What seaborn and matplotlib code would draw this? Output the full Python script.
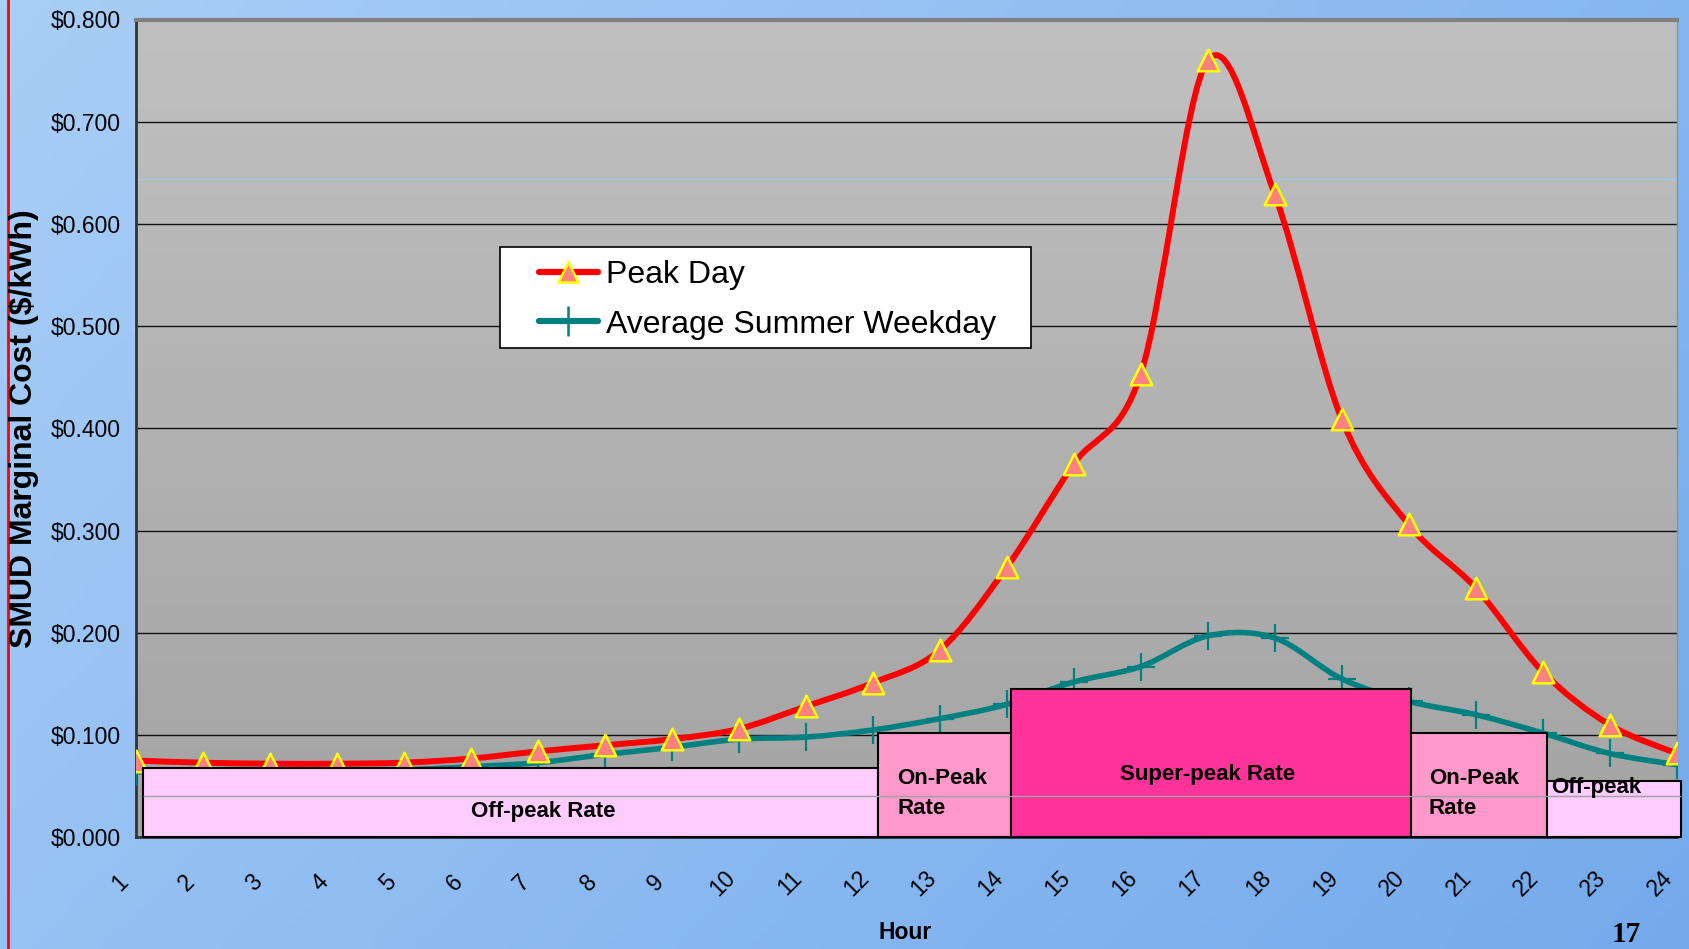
import numpy as np
import pandas as pd
import matplotlib
matplotlib.use("Agg")
import matplotlib.pyplot as plt
import matplotlib.transforms as mtransforms
import seaborn as sns
from matplotlib.path import Path
from matplotlib.patches import PathPatch, Rectangle
from matplotlib.lines import Line2D
import matplotlib.colors as mcolors

# ---------------- data ----------------
hours = list(range(1, 25))
peak_day = [0.075, 0.073, 0.072, 0.072, 0.073, 0.077, 0.084, 0.090, 0.096, 0.106,
            0.128, 0.151, 0.183, 0.264, 0.365, 0.453, 0.760, 0.629, 0.409, 0.306,
            0.244, 0.162, 0.110, 0.082]
avg_summer = [0.064, 0.065, 0.065, 0.065, 0.066, 0.069, 0.073, 0.081, 0.088, 0.096,
              0.098, 0.105, 0.116, 0.130, 0.152, 0.167, 0.197, 0.195, 0.155, 0.133,
              0.120, 0.102, 0.082, 0.071]
series_names = ["Peak Day", "Average Summer Weekday"]

rate_labels = ["Off-peak Rate", "On-Peak\nRate", "Super-peak Rate", "On-Peak\nRate", "Off-peak"]
rate_start = [1.11, 12.08, 14.07, 20.03, 22.06]
rate_end = [12.08, 14.07, 20.03, 22.06, 24.06]
rate_level = [0.068, 0.102, 0.145, 0.102, 0.055]

y_ticks = [0.0, 0.1, 0.2, 0.3, 0.4, 0.5, 0.6, 0.7, 0.8]

# ---------------- style ----------------
sns.set_theme(style="white")
plt.rcParams['font.family'] = ['Liberation Sans', 'DejaVu Sans']
plt.rcParams['text.color'] = 'black'
plt.rcParams['axes.labelcolor'] = 'black'
plt.rcParams['xtick.color'] = 'black'
plt.rcParams['ytick.color'] = 'black'

RED = "#FF0000"
TEAL = "#008080"
rate_colors = ["#FFCCFF", "#FF99CC", "#FF3399", "#FF99CC", "#FFCCFF"]

W, H = 1689, 949
fig = plt.figure(figsize=(W / 100, H / 100), dpi=100)

# slide background gradient
bg = fig.add_axes([0, 0, 1, 1], zorder=-10)
gx, gy = np.meshgrid(np.linspace(0, 1, 200), np.linspace(0, 1, 120))
t = np.clip(0.65 * gx + 0.35 * gy, 0, 1)
c1 = np.array(mcolors.to_rgb("#A9CEF7"))
c2 = np.array(mcolors.to_rgb("#74AAEC"))
img = c1[None, None, :] * (1 - t[..., None]) + c2[None, None, :] * t[..., None]
bg.imshow(img, aspect="auto", extent=[0, 1, 0, 1], origin="upper")
bg.axvline(8 / W, color="#FF0000", lw=2)
bg.axis("off")

# main axes
L, R = 135.7, 1676.7
T, B = 19.5, 837.3
ax = fig.add_axes([L / W, 1 - B / H, (R - L) / W, (B - T) / H])
ax.set_xlim(1, 24)
ax.set_ylim(0, 0.8)

# plot area gradient
grad = np.linspace(0, 1, 256)[:, None]
top_c = np.array(mcolors.to_rgb("#C0C0C0"))
bot_c = np.array(mcolors.to_rgb("#A4A4A4"))
pimg = top_c[None, None, :] * (1 - grad[..., None]) + bot_c[None, None, :] * grad[..., None]
ax.imshow(pimg, aspect="auto", extent=[0, 1, 0, 1], transform=ax.transAxes, zorder=0)

# gridlines
for yv in y_ticks[1:-1]:
    ax.axhline(yv, color="#111111", lw=1.0, zorder=1)
ax.axhline(0.644, color="#9CC8F2", lw=1.0, zorder=1)


def smooth_path(x, y):
    x = np.asarray(x, float)
    y = np.asarray(y, float)
    n = len(x)
    verts = [(x[0], y[0])]
    codes = [Path.MOVETO]
    for i in range(n - 1):
        xm, ym = (x[i - 1], y[i - 1]) if i > 0 else (x[i], y[i])
        xp, yp = (x[i + 2], y[i + 2]) if i + 2 < n else (x[i + 1], y[i + 1])
        ctrl1 = (x[i] + (x[i + 1] - xm) / 6, y[i] + (y[i + 1] - ym) / 6)
        ctrl2 = (x[i + 1] - (xp - x[i]) / 6, y[i + 1] - (yp - y[i]) / 6)
        verts += [ctrl1, ctrl2, (x[i + 1], y[i + 1])]
        codes += [Path.CURVE4] * 3
    return Path(verts, codes)


df = pd.DataFrame({"Hour": hours, series_names[0]: peak_day, series_names[1]: avg_summer})

# teal line + markers
ax.add_patch(PathPatch(smooth_path(hours, avg_summer), fill=False, edgecolor=TEAL,
                       lw=4.0, zorder=3, capstyle="round", joinstyle="round"))
sns.scatterplot(data=df, x="Hour", y=series_names[1], marker="+", s=420,
                color=TEAL, linewidth=1.6, ax=ax, zorder=4, legend=False)

# red line + markers
ax.add_patch(PathPatch(smooth_path(hours, peak_day), fill=False, edgecolor=RED,
                       lw=4.3, zorder=5, capstyle="round", joinstyle="round"))
sns.scatterplot(data=df, x="Hour", y=series_names[0], marker="^", s=240,
                color="#FF8080", edgecolor="#FFFF00", linewidth=1.8, ax=ax,
                zorder=6, legend=False)

# rate boxes
for x0, x1, lev, col in zip(rate_start, rate_end, rate_level, rate_colors):
    ax.add_patch(Rectangle((x0, 0), x1 - x0, lev, facecolor=col, edgecolor="black",
                           lw=1.5, zorder=7, clip_on=False))
ax.hlines(0.040, rate_start[0], rate_end[-1], color="#A0A0A0", lw=1.0, zorder=8,
          clip_on=False)

lbl_kw = dict(fontsize=16, fontweight="bold", color="black", zorder=9)
ax.text(7.09, 0.025, rate_labels[0], ha="center", va="center", **lbl_kw)
ax.text(12.37, 0.043, rate_labels[1], ha="left", va="center", linespacing=1.6, **lbl_kw)
ax.text(17.0, 0.061, rate_labels[2], ha="center", va="center", **lbl_kw)
ax.text(20.30, 0.043, rate_labels[3], ha="left", va="center", linespacing=1.6, **lbl_kw)
ax.text(22.12, 0.049, rate_labels[4], ha="left", va="center", **lbl_kw)

# axes styling
ax.set_yticks(y_ticks)
ax.set_yticklabels(["${:.3f}".format(v) for v in y_ticks], fontsize=16.5)
ax.set_xticks(hours)
ax.set_xticklabels([str(h) for h in hours], fontsize=16.5, rotation=45,
                   ha="center", va="center", rotation_mode="anchor")
ax.tick_params(axis="y", direction="out", length=6, width=1.2, color="#333333", pad=5)
ax.tick_params(axis="x", direction="out", length=6, width=1.2, color="#333333", pad=27)
off = mtransforms.ScaledTranslation(-16 / 100, 0, fig.dpi_scale_trans)
for lab in ax.get_xticklabels():
    lab.set_transform(lab.get_transform() + off)

for s in ["left", "bottom"]:
    ax.spines[s].set_color("#333333")
    ax.spines[s].set_linewidth(2)
ax.spines["top"].set_color("#808080")
ax.spines["top"].set_linewidth(3)
ax.spines["right"].set_color("#909090")
ax.spines["right"].set_linewidth(1)

ax.set_ylabel("SMUD Marginal Cost ($/kWh)", fontsize=23, fontweight="bold")
ax.yaxis.label.set_va("center")
ax.yaxis.set_label_coords(-0.0725, 0.5)
ax.set_xlabel("Hour", fontsize=16.5, fontweight="bold")
ax.xaxis.label.set_va("center")
ax.xaxis.set_label_coords(0.499, -0.116)

# legend: manual frame + frameless legend
ax.add_patch(Rectangle((0.2363, 0.5984), 0.3446, 0.1239, transform=ax.transAxes,
                       facecolor="white", edgecolor="black", lw=1.2, zorder=10))
handles = [
    Line2D([0], [0], color=RED, lw=4.5, marker="^", markersize=15,
           markerfacecolor="#FF8080", markeredgecolor="#FFFF00", markeredgewidth=1.8,
           solid_capstyle="round"),
    Line2D([0], [0], color=TEAL, lw=4.5, marker="|", markersize=22,
           markeredgecolor=TEAL, markeredgewidth=1.8, solid_capstyle="round"),
]
leg = ax.legend(handles, series_names, loc="center left", bbox_to_anchor=(0.2614, 0.657),
                fontsize=23, frameon=False, handlelength=1.85, handletextpad=0.25,
                borderpad=0, labelspacing=0.6, borderaxespad=0)
leg.set_zorder(11)

fig.text(1626 / W, 1 - 935 / H, "17", family=["Liberation Serif"], fontweight="bold",
         fontsize=21, ha="center", va="center")

fig.savefig("out.png", dpi=100)
